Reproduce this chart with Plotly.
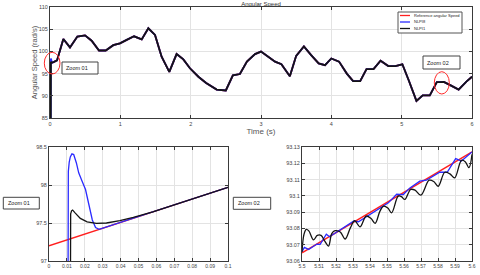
import plotly.graph_objects as go

# ---------------- data ----------------
ref_time = [0, 0.1, 0.19, 0.284, 0.389, 0.498, 0.592, 0.697, 0.792, 0.9, 0.995, 1.09,
            1.195, 1.304, 1.398, 1.493, 1.587, 1.696, 1.8, 1.896, 1.99, 2.11, 2.22, 2.37,
            2.5, 2.6, 2.7, 2.8, 2.915, 3.0, 3.13, 3.2, 3.29, 3.41, 3.5, 3.61, 3.71, 3.82,
            3.91, 4.0, 4.11, 4.22, 4.31, 4.41, 4.5, 4.6, 4.7, 4.81, 4.91, 5.01, 5.1, 5.21,
            5.3, 5.4, 5.5, 5.6, 5.69, 5.81, 5.92, 6.0]
ref_speed = [97.2, 97.97, 102.8, 100.9, 103.35, 103.6, 102.4, 100.2, 100.2, 101.4, 101.8,
             102.6, 103.4, 102.7, 105.2, 103.7, 98.8, 95.4, 99.4, 98.2, 96.2, 94.3, 92.9,
             91.4, 91.2, 94.6, 94.9, 97.7, 99.4, 99.95, 98.4, 97.7, 97.1, 94.4, 99.0, 101.1,
             99.2, 97.3, 96.9, 98.4, 97.7, 95.0, 93.3, 93.3, 96.0, 96.0, 97.9, 96.7, 96.7,
             97.1, 93.5, 88.85, 90.1, 90.1, 93.065, 93.127, 92.4, 91.4, 93.2, 94.3]

# start-up transients
nlpi8_start_time = [0, 0.0105, 0.0106, 0.0108, 0.0113, 0.0119, 0.0128, 0.0138, 0.0153,
                    0.0166, 0.0185, 0.0204, 0.0223, 0.0242, 0.026, 0.028]
nlpi8_start_speed = [0, 0, 97.6, 98.18, 98.3, 98.37, 98.41, 98.40, 98.29, 98.16, 98.05,
                     97.94, 97.74, 97.54, 97.44, 97.416]
nlpi1_start_time = [0, 0.0114, 0.0117, 0.0121, 0.0126, 0.0132, 0.0147, 0.0175, 0.0213,
                    0.025, 0.0265, 0.0321, 0.0396, 0.0471, 0.0527, 0.058]
nlpi1_start_speed = [0, 0, 97.5, 97.62, 97.66, 97.67, 97.63, 97.56, 97.515, 97.5, 97.495,
                     97.50, 97.53, 97.575, 97.615, 97.647]

# detail around t = 5.5 .. 5.6
nlpi8_win_time = [5.5, 5.5014, 5.5039, 5.5088, 5.5107, 5.5143, 5.5162, 5.5186, 5.5303,
                  5.5332, 5.5508, 5.5557, 5.5596, 5.5635, 5.5693, 5.5732, 5.581, 5.5854,
                  5.5904, 5.5938, 5.6]
nlpi8_win_speed = [93.0657, 93.0684, 93.0671, 93.0704, 93.0702, 93.0765, 93.0749, 93.0765,
                   93.0845, 93.0841, 93.0957, 93.101, 93.1008, 93.1049, 93.109, 93.1096,
                   93.1145, 93.1145, 93.1229, 93.1214, 93.127]
nlpi1_win_time = [5.5, 5.5012, 5.5025, 5.504, 5.5068, 5.509, 5.5112, 5.5135, 5.5156, 5.5175,
                  5.5195, 5.5225, 5.5254, 5.5285, 5.531, 5.5342, 5.5377, 5.5405, 5.543,
                  5.5458, 5.548, 5.5505, 5.5527, 5.5566, 5.5585, 5.5605, 5.5639, 5.5665,
                  5.5699, 5.5748, 5.5775, 5.5801, 5.584, 5.587, 5.5898, 5.5938, 5.596,
                  5.5982, 5.6]
nlpi1_win_speed = [93.0655, 93.0765, 93.0794, 93.0785, 93.073, 93.0757, 93.0757, 93.072,
                   93.0692, 93.0768, 93.0786, 93.0778, 93.0735, 93.0805, 93.0847, 93.081,
                   93.0876, 93.0862, 93.0831, 93.0905, 93.0937, 93.0925, 93.0896, 93.0998,
                   93.0995, 93.0978, 93.1039, 93.1035, 93.1004, 93.1096, 93.1088, 93.1059,
                   93.1145, 93.1135, 93.111, 93.1218, 93.121, 93.1173, 93.1255]

zoom2_ticks = [5.5, 5.51, 5.52, 5.53, 5.54, 5.55, 5.56, 5.57, 5.58, 5.59, 5.6]

series_names = ["Reference angular Speed", "NLPI8", "NLPI1"]
series_colors = ["#ff1f1f", "#2a2aff", "#141414"]


def build(start_t, start_y, win_t, win_y):
    t, y = list(start_t), list(start_y)
    t0 = start_t[-1]
    for a, b in zip(ref_time, ref_speed):
        if a > t0 and not (5.5 <= a <= 5.6):
            if a > 5.6 and win_t[-1] not in t:
                t += win_t
                y += win_y
            t.append(a)
            y.append(b)
    return t, y


nlpi8_t, nlpi8_y = build(nlpi8_start_time, nlpi8_start_speed, nlpi8_win_time, nlpi8_win_speed)
nlpi1_t, nlpi1_y = build(nlpi1_start_time, nlpi1_start_speed, nlpi1_win_time, nlpi1_win_speed)
all_series = [(ref_time, ref_speed), (nlpi8_t, nlpi8_y), (nlpi1_t, nlpi1_y)]


def window(t, y, lo, hi):
    pts = [(a, b) for a, b in zip(t, y) if lo <= a <= hi]
    return [p[0] for p in pts], [p[1] for p in pts]


# ---------------- figure ----------------
W, H = 480, 275
FONT = "Liberation Sans, Arial, sans-serif"


def px(x):
    return x / W


def py(y):
    return 1 - y / H


fig = go.Figure()

# top plot
for (t, y), name, col in zip(all_series, series_names, series_colors):
    fig.add_trace(go.Scatter(x=t, y=y, mode="lines", name=name, showlegend=False,
                             line=dict(color=col, width=1.8), xaxis="x", yaxis="y"))

# bottom-left zoom
for (t, y), name, col in zip(all_series, series_names, series_colors):
    wt, wy = window(t, y, 0, 0.1)
    fig.add_trace(go.Scatter(x=wt, y=wy, mode="lines", name=name, showlegend=False,
                             line=dict(color=col, width=1.3), xaxis="x2", yaxis="y2"))

# bottom-right zoom
for (t, y), name, col in zip(all_series, series_names, series_colors):
    wt, wy = window(t, y, 5.5, 5.6)
    shape = "spline" if name == "NLPI1" else "linear"
    fig.add_trace(go.Scatter(x=wt, y=wy, mode="lines", name=name, showlegend=False,
                             line=dict(color=col, width=1.3, shape=shape),
                             xaxis="x3", yaxis="y3"))

ax_common = dict(showline=True, linecolor="#3a3a3a", linewidth=1, mirror="ticks",
                 ticks="inside", ticklen=3, tickcolor="#3a3a3a", tickwidth=0.8,
                 showgrid=True, gridcolor="#e3e3e3", gridwidth=0.7, zeroline=False,
                 tickfont=dict(family=FONT, size=5.5, color="#444"), automargin=False)
xax_common = dict(ax_common, ticklabeloverflow="allow")
xax_small = dict(xax_common, tickfont=dict(family=FONT, size=5, color="#444"))

fig.update_layout(
    width=W, height=H, margin=dict(l=0, r=0, t=0, b=0),
    paper_bgcolor="white", plot_bgcolor="white",
    font=dict(family=FONT, color="#333"),
    title=dict(text="Angular Speed", x=px(261), y=py(4), xanchor="center", yanchor="middle",
               font=dict(family=FONT, size=6, color="#333")),
    xaxis=dict(domain=[px(50), px(472)], range=[0, 6], dtick=1, anchor="y",
               title=dict(text="Time (s)", font=dict(family=FONT, size=8, color="#555"),
                          standoff=2),
               **xax_common),
    yaxis=dict(domain=[py(118), py(7)], range=[85, 110], dtick=5, anchor="x",
               title=dict(text="Angular Speed (rad/s)",
                          font=dict(family=FONT, size=7.5, color="#555"), standoff=0),
               **ax_common),
    xaxis2=dict(domain=[px(49), px(228)], range=[0, 0.1], dtick=0.01, anchor="y2",
                **xax_small),
    yaxis2=dict(domain=[py(261), py(147)], range=[97, 98.5], dtick=0.5, anchor="x2",
                **ax_common),
    xaxis3=dict(domain=[px(302), px(472)], range=[5.5, 5.6], tickmode="array",
                tickvals=zoom2_ticks, ticktext=[f"{v:g}" for v in zoom2_ticks],
                anchor="y3", **xax_small),
    yaxis3=dict(domain=[py(261), py(147)], range=[93.06, 93.13], dtick=0.01, anchor="x3",
                **ax_common),
)

shapes = []
annotations = []

# red ellipses marking the zoomed regions
for x0, y0, x1, y1 in [(44.3, 52.3, 60, 74), (434.3, 71.7, 449.3, 94)]:
    shapes.append(dict(type="circle", xref="paper", yref="paper", x0=px(x0), x1=px(x1),
                       y0=py(y1), y1=py(y0), line=dict(color="#ff2a2a", width=1)))

# zoom label boxes
for label, x0, y0, x1, y1 in [("Zoom 01", 62, 62, 98, 74), ("Zoom 02", 423, 56, 460, 69),
                              ("Zoom 01", 3.3, 197.3, 39.3, 209), ("Zoom 02", 233.3, 197.3, 270.7, 209.3)]:
    shapes.append(dict(type="rect", xref="paper", yref="paper", x0=px(x0), x1=px(x1),
                       y0=py(y1), y1=py(y0), fillcolor="white",
                       line=dict(color="#444", width=1)))
    annotations.append(dict(text=label, xref="paper", yref="paper", x=px(x0 + 2.2),
                            y=py((y0 + y1) / 2), xanchor="left", yanchor="middle",
                            showarrow=False, font=dict(family=FONT, size=5.5, color="#222")))

# legend (drawn manually, compact like the original)
shapes.append(dict(type="rect", xref="paper", yref="paper", x0=px(398), x1=px(462),
                   y0=py(33), y1=py(12), fillcolor="white", line=dict(color="#555", width=1)))
for i, (name, col) in enumerate(zip(series_names, series_colors)):
    yy = 15.5 + i * 6.5
    shapes.append(dict(type="line", xref="paper", yref="paper", x0=px(400), x1=px(410),
                       y0=py(yy), y1=py(yy), line=dict(color=col, width=1.3)))
    annotations.append(dict(text=name, xref="paper", yref="paper", x=px(411.5), y=py(yy),
                            xanchor="left", yanchor="middle", showarrow=False,
                            font=dict(family=FONT, size=4, color="#222")))

fig.update_layout(shapes=shapes, annotations=annotations)

fig.write_html("out.html", config={"displayModeBar": False},
               post_script="document.body.style.margin='0px';")
